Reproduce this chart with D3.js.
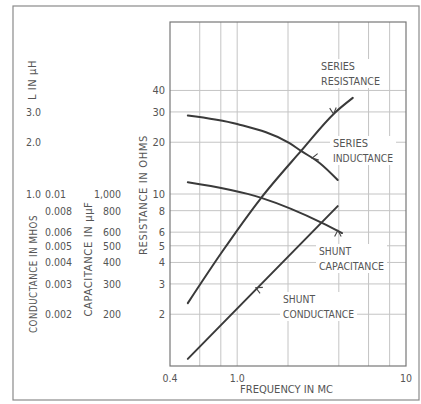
<!DOCTYPE html>
<html>
<head>
<meta charset="utf-8">
<script src="https://cdn.jsdelivr.net/npm/d3@7"></script>
<style>
  body { margin: 0; background: #fff; }
  svg { display: block; }
  text { font-family: "DejaVu Sans Condensed", "DejaVu Sans", sans-serif; fill: #555; }
</style>
</head>
<body>
<svg id="chart" width="421" height="404"></svg>
<script>
// ---- data ----
const xTickValues = [0.4, 1.0, 10];
const xTickLabels = ["0.4", "1.0", "10"];
const xGridValues = [0.6, 0.8, 1, 2, 4, 6, 8];
const yTickValues = [2, 3, 4, 5, 6, 8, 10, 20, 30, 40];
const yTickLabels = ["2", "3", "4", "5", "6", "8", "10", "20", "30", "40"];
const inductanceTicks = [3.0, 2.0, 1.0];
const inductanceLabels = ["3.0", "2.0", "1.0"];
const conductanceTicks = [0.01, 0.008, 0.006, 0.005, 0.004, 0.003, 0.002];
const conductanceLabels = ["0.01", "0.008", "0.006", "0.005", "0.004", "0.003", "0.002"];
const capacitanceTicks = [1000, 800, 600, 500, 400, 300, 200];
const capacitanceLabels = ["1,000", "800", "600", "500", "400", "300", "200"];

const seriesResistance = [[0.51, 2.32], [0.82, 4.66], [1.37, 9.35], [2.39, 17.8], [3.78, 29.6], [4.84, 36.2]];
const seriesInductance = [[0.51, 28.6], [1.0, 25.5], [2.03, 19.8], [2.39, 17.8], [3.09, 15.1], [3.94, 12.06]];
const shuntCapacitance = [[0.51, 11.7], [1.39, 9.5], [3.2, 6.78], [4.18, 5.93]];
const shuntConductance = [[0.51, 1.1], [3.94, 8.5]];

const curveNames = ["SERIES RESISTANCE", "SERIES INDUCTANCE", "SHUNT CAPACITANCE", "SHUNT CONDUCTANCE"];

// ---- layout ----
const svg = d3.select("#chart");
const x = d3.scaleLog().domain([0.4, 10]).range([170, 406]);
const y = d3.scaleLog().domain([1, 100]).range([366, 22]);

// outer frame
svg.append("rect").attr("x", 13).attr("y", 6).attr("width", 406).attr("height", 394)
  .attr("fill", "none").attr("stroke", "#8a8a8a").attr("stroke-width", 1.2);

// grid
const g = svg.append("g");
g.selectAll("line.vg").data(xGridValues).join("line")
  .attr("x1", d => x(d)).attr("x2", d => x(d)).attr("y1", y(100)).attr("y2", y(1))
  .attr("stroke", "#c4c4c4").attr("stroke-width", 1);
g.selectAll("line.hg").data(yTickValues).join("line")
  .attr("x1", x(0.4)).attr("x2", x(10)).attr("y1", d => y(d)).attr("y2", d => y(d))
  .attr("stroke", "#c4c4c4").attr("stroke-width", 1);

// plot frame
svg.append("rect").attr("x", x(0.4)).attr("y", y(100))
  .attr("width", x(10) - x(0.4)).attr("height", y(1) - y(100))
  .attr("fill", "none").attr("stroke", "#777").attr("stroke-width", 1.2);

// axis tick labels
svg.selectAll("text.xt").data(xTickValues).join("text")
  .attr("x", d => x(d)).attr("y", 382).attr("text-anchor", "middle")
  .attr("font-size", 10.5).text((d, i) => xTickLabels[i]);

svg.selectAll("text.yt").data(yTickValues).join("text")
  .attr("x", 165).attr("y", d => y(d) + 4).attr("text-anchor", "end")
  .attr("font-size", 11).text((d, i) => yTickLabels[i]);

// secondary scales (aligned with resistance values)
svg.selectAll("text.lt").data(inductanceTicks).join("text")
  .attr("x", 26).attr("y", d => y(d * 10) + 4)
  .attr("font-size", 10.5).text((d, i) => inductanceLabels[i]);
svg.selectAll("text.gt").data(conductanceTicks).join("text")
  .attr("x", 45).attr("y", d => y(d * 1000) + 4)
  .attr("font-size", 10.5).text((d, i) => conductanceLabels[i]);
svg.selectAll("text.ct").data(capacitanceTicks).join("text")
  .attr("x", 121).attr("y", d => y(d / 100) + 4).attr("text-anchor", "end")
  .attr("font-size", 10.5).text((d, i) => capacitanceLabels[i]);

// rotated titles
function vtitle(cx, cy, txt, len) {
  svg.append("text").attr("transform", `translate(${cx},${cy}) rotate(-90)`)
    .attr("text-anchor", "middle").attr("dy", "0.35em")
    .attr("font-size", 10.5).attr("letter-spacing", 0.6)
    .attr("textLength", len).attr("lengthAdjust", "spacingAndGlyphs").text(txt);
}
vtitle(32, 80, "L IN \u03BCH", 40);
vtitle(33, 274, "CONDUCTANCE IN MHOS", 118);
vtitle(88, 259, "CAPACITANCE IN \u03BC\u03BCF", 115);
vtitle(143, 195, "RESISTANCE IN OHMS", 120);

svg.append("text").attr("x", 240).attr("y", 393).attr("font-size", 10.5)
  .attr("textLength", 93).attr("lengthAdjust", "spacingAndGlyphs").text("FREQUENCY IN MC");

// curve labels with white backgrounds
function label(x0, yb, lines, widths) {
  const grp = svg.append("g");
  const bg = grp.append("rect").attr("fill", "#fff");
  lines.forEach((t, i) => {
    grp.append("text").attr("x", x0).attr("y", yb + i * 15).attr("font-size", 10.5)
      .attr("textLength", widths[i]).attr("lengthAdjust", "spacingAndGlyphs").text(t);
  });
  const bb = grp.node().getBBox();
  bg.attr("x", bb.x - 3).attr("y", bb.y - 1).attr("width", bb.width + 6).attr("height", bb.height + 2);
}
label(321, 70, curveNames[0].split(" "), [34, 59]);
label(333, 147, curveNames[1].split(" "), [35, 60]);
label(319, 255, curveNames[2].split(" "), [32, 65]);
label(283, 303, curveNames[3].split(" "), [32, 71]);

// curves
const line = d3.line().x(d => x(d[0])).y(d => y(d[1])).curve(d3.curveMonotoneX);
[seriesResistance, seriesInductance, shuntCapacitance, shuntConductance].forEach(s => {
  svg.append("path").datum(s).attr("d", line)
    .attr("fill", "none").attr("stroke", "#3a3a3a").attr("stroke-width", 2)
    .attr("stroke-linecap", "round");
});

// leader marks (arrowheads pointing at curves)
function mark(f, r, angDeg) {
  const px = x(f), py = y(r), L = 7;
  const a = angDeg * Math.PI / 180;
  const p = [-28, 28].map(o => {
    const b = a + o * Math.PI / 180;
    return [px + L * Math.cos(b), py + L * Math.sin(b)];
  });
  svg.append("path").attr("d", `M${p[0][0]},${p[0][1]}L${px},${py}L${p[1][0]},${p[1][1]}`)
    .attr("fill", "none").attr("stroke", "#444").attr("stroke-width", 1.1);
}
mark(3.72, 29.2, -95);
mark(2.78, 16.2, -10);
mark(3.95, 6.15, 90);
mark(1.29, 2.85, 25);
</script>
</body>
</html>
